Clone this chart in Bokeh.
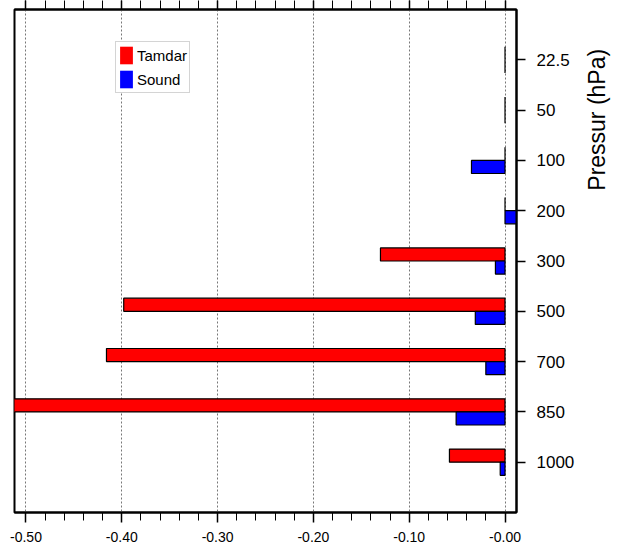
import math
from bokeh.plotting import figure
from bokeh.models import (Range1d, FixedTicker, LinearAxis,
                          Legend, LegendItem, ColumnDataSource)
from bokeh.transform import dodge
from bokeh.embed import file_html
from bokeh.resources import INLINE

# ---- data ----
levels = ["22.5", "50", "100", "200", "300", "500", "700", "850", "1000"]
tamdar = [0.0, 0.0, 0.0, 0.0, -0.130, -0.398, -0.416, -0.530, -0.058]
sound = [0.0, 0.0, -0.035, 0.015, -0.010, -0.031, -0.020, -0.051, -0.005]
x_ticks = [-0.5, -0.4, -0.3, -0.2, -0.1, 0.0]
x_tick_labels = ["-0.50", "-0.40", "-0.30", "-0.20", "-0.10", "-0.00"]
minor_ticks = [round(-0.5 + 0.02 * i, 2) for i in range(26)]
series_names = ["Tamdar", "Sound"]
series_colors = ["#ff0000", "#0000ff"]
y_title = "Pressur (hPa)"

FONT = "Liberation Sans"

pos = list(range(len(levels)))  # category slots, top to bottom
src = ColumnDataSource(dict(pos=pos, tamdar=tamdar, sound=sound, zero=[0.0] * len(levels)))

p = figure(width=625, height=548, output_backend="svg", toolbar_location=None,
           x_range=Range1d(-0.512, 0.012),
           y_range=Range1d(len(levels), -1),
           x_axis_location="below", y_axis_location="right",
           min_border_left=14, min_border_right=107, min_border_top=9, min_border_bottom=36)

p.background_fill_color = "white"
p.border_fill_color = "white"
p.outline_line_color = "black"
p.outline_line_width = 2

bar_h = 0.26
p.hbar(y=dodge("pos", -bar_h / 2, range=p.y_range), left="zero", right="tamdar", height=bar_h,
       source=src, fill_color=series_colors[0], line_color="black", line_width=1.2)
p.hbar(y=dodge("pos", bar_h / 2, range=p.y_range), left="zero", right="sound", height=bar_h,
       source=src, fill_color=series_colors[1], line_color="black", line_width=1.2)

# legend-only renderers (no outline, zero width so invisible in the plot)
leg_src = ColumnDataSource(dict(pos=[pos[0]], zero=[0.0], v=[0.0]))
r_leg = []
for c in series_colors:
    r_leg.append(p.hbar(y="pos", left="zero", right="v", height=bar_h, source=leg_src,
                        fill_color=c, line_color=None))
legend = Legend(items=[LegendItem(label=n, renderers=[r], index=0) for n, r in zip(series_names, r_leg)],
                location=(101, 419), orientation="vertical",
                glyph_width=16, glyph_height=22, label_standoff=3, padding=2, spacing=2,
                margin=0, border_line_color="#aaaaaa", border_line_width=1,
                background_fill_color="white", background_fill_alpha=1,
                label_text_font=FONT, label_text_font_size="15px", label_text_color="black",
                label_height=22)
p.add_layout(legend, "center")

# bottom x axis
xa = p.xaxis[0]
xa.ticker = FixedTicker(ticks=x_ticks, minor_ticks=minor_ticks)
xa.major_label_overrides = dict(zip(x_ticks, x_tick_labels))
xa.major_tick_in = 0
xa.major_tick_out = 10
xa.minor_tick_in = 0
xa.minor_tick_out = 8
xa.axis_line_width = 2
xa.major_tick_line_width = 1.5
xa.minor_tick_line_width = 1
xa.major_label_standoff = 9
xa.major_label_text_font = FONT
xa.major_label_text_font_size = "14px"
xa.major_label_text_color = "black"

# top axis: ticks only
ta = LinearAxis(ticker=FixedTicker(ticks=x_ticks, minor_ticks=minor_ticks))
ta.major_label_overrides = {t: "" for t in x_ticks}
ta.major_tick_in = 0
ta.major_tick_out = 9
ta.minor_tick_in = 0
ta.minor_tick_out = 9
ta.axis_line_width = 2
ta.major_tick_line_width = 1.5
ta.minor_tick_line_width = 1
ta.major_label_text_font_size = "1px"
ta.major_label_standoff = 0
p.add_layout(ta, "above")

# right y axis with the pressure levels
ya = p.yaxis[0]
ya.ticker = FixedTicker(ticks=pos, minor_ticks=[])
ya.major_label_overrides = dict(zip(pos, levels))
ya.major_tick_in = 0
ya.major_tick_out = 9
ya.minor_tick_line_color = None
ya.axis_line_width = 2
ya.major_tick_line_width = 1.5
ya.major_label_standoff = 11
ya.major_label_text_font = FONT
ya.major_label_text_font_size = "17px"
ya.major_label_text_color = "black"

# title axis: a tick-less axis carrying the bottom-to-top title
# (leading no-break spaces re-centre the left-anchored rotated text)
p.extra_y_ranges = {"title": Range1d(0, 1)}
tax = LinearAxis(y_range_name="title", ticker=FixedTicker(ticks=[]))
tax.axis_line_color = None
tax.major_tick_line_color = None
tax.minor_tick_line_color = None
tax.axis_label = "\u00a0" * 11 + y_title
tax.axis_label_standoff = 19
tax.axis_label_text_font = FONT
tax.axis_label_text_font_size = "23px"
tax.axis_label_text_font_style = "normal"
tax.axis_label_text_color = "black"
tax.axis_label_orientation = math.pi / 2
p.add_layout(tax, "right")

# grid
p.xgrid.ticker = FixedTicker(ticks=x_ticks)
p.xgrid.grid_line_color = "#777777"
p.xgrid.grid_line_dash = "2 2"
p.xgrid.grid_line_width = 1
p.ygrid.visible = False

open("out.html", "w").write(file_html(p, INLINE))
